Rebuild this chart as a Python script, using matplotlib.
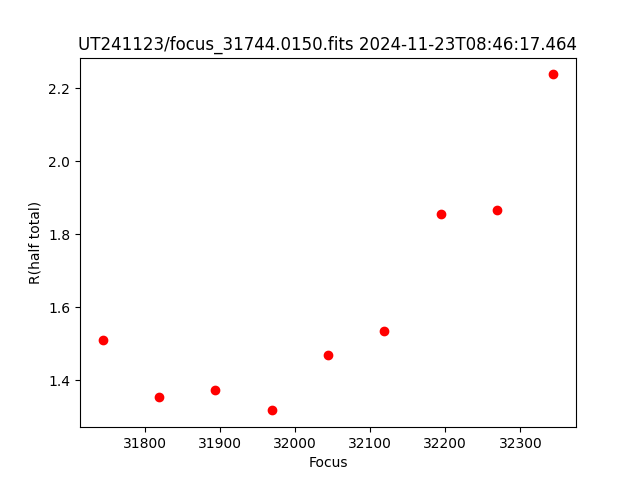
import matplotlib
matplotlib.use("Agg")
import matplotlib.pyplot as plt

focus = [31744, 31819, 31894, 31969, 32044, 32119, 32194, 32269, 32344]
r_half = [1.510, 1.354, 1.373, 1.318, 1.469, 1.535, 1.855, 1.866, 2.238]

fig = plt.figure(figsize=(6.4, 4.8), dpi=100)
plt.plot(focus, r_half, "ro")
plt.xlabel("Focus")
plt.ylabel("R(half total)")
plt.title("UT241123/focus_31744.0150.fits 2024-11-23T08:46:17.464")
plt.savefig("out.png")
